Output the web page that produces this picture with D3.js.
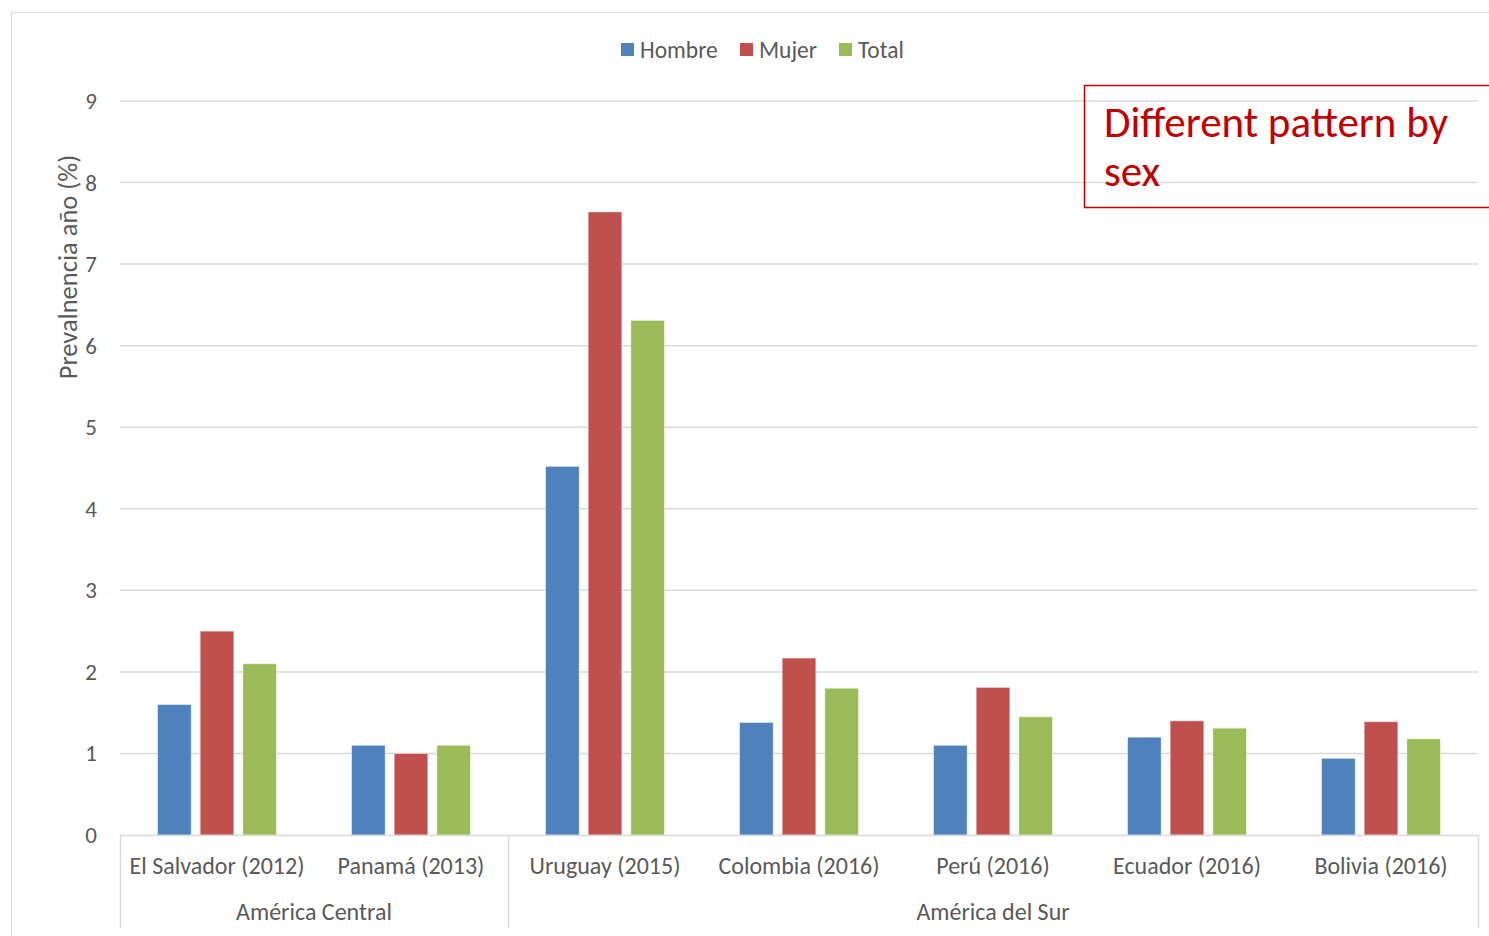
<!DOCTYPE html>
<meta charset="utf-8">
<style>
body { margin: 0; background: #fff; }
svg text { font-family: Carlito, Calibri, Lato, sans-serif; fill: #595959; }
.grid line { stroke: #d9d9d9; stroke-width: 1.5; }
</style>
<body>
<svg width="1489" height="936"></svg>
<script src="https://d3js.org/d3.v7.min.js"></script>
<script>
// data
var countries = ["El Salvador (2012)", "Panamá (2013)", "Uruguay (2015)", "Colombia (2016)", "Perú (2016)", "Ecuador (2016)", "Bolivia (2016)"];
var regions = ["América Central", "América Central", "América del Sur", "América del Sur", "América del Sur", "América del Sur", "América del Sur"];
var seriesNames = ["Hombre", "Mujer", "Total"];
var hombre = [1.6, 1.1, 4.52, 1.38, 1.1, 1.2, 0.94];
var mujer  = [2.5, 1.0, 7.64, 2.17, 1.81, 1.4, 1.39];
var total  = [2.1, 1.1, 6.31, 1.80, 1.45, 1.31, 1.18];
var yTicks = [0, 1, 2, 3, 4, 5, 6, 7, 8, 9];
var colors = ["#4f81bd", "#c0504d", "#9bbb59"];

var svg = d3.select("svg");

// chart frame
svg.append("rect")
    .attr("x", 11.5).attr("y", 12.5)
    .attr("width", 1500).attr("height", 1000)
    .attr("fill", "none").attr("stroke", "#d9d9d9");

var x = d3.scaleBand()
    .domain(countries)
    .range([120, 1478]);

var xs = d3.scaleBand()
    .domain(seriesNames)
    .range([x.bandwidth() / 2 - 59.5, x.bandwidth() / 2 + 59.5])
    .paddingInner(0.21);

var y = d3.scaleLinear()
    .domain([0, 9])
    .range([835, 101]);

// gridlines
svg.append("g")
    .attr("class", "grid")
  .selectAll("line")
  .data(yTicks.slice(1))
  .enter().append("line")
    .attr("x1", 120).attr("x2", 1478)
    .attr("y1", function(d) { return y(d); })
    .attr("y2", function(d) { return y(d); });

// y labels
svg.append("g")
  .selectAll("text")
  .data(yTicks)
  .enter().append("text")
    .attr("x", 97)
    .attr("y", function(d) { return y(d); })
    .attr("dy", "0.35em")
    .attr("text-anchor", "end")
    .attr("font-size", 23)
    .text(function(d) { return d; });

svg.append("text")
    .attr("transform", "translate(77,267) rotate(-90)")
    .attr("text-anchor", "middle")
    .attr("font-size", 26.5)
    .text("Prevalnencia año (%)");

// bars
var series = [hombre, mujer, total];
var groups = svg.append("g").selectAll("g")
  .data(countries)
  .enter().append("g")
    .attr("transform", function(d) { return "translate(" + x(d) + ",0)"; });

groups.selectAll("rect")
  .data(function(d, i) {
    return seriesNames.map(function(s, j) { return {name: s, value: series[j][i], k: j}; });
  })
  .enter().append("rect")
    .attr("x", function(d) { return xs(d.name); })
    .attr("width", xs.bandwidth())
    .attr("y", function(d) { return y(d.value); })
    .attr("height", function(d) { return y(0) - y(d.value); })
    .attr("fill", function(d) { return colors[d.k]; })
    .attr("stroke", "#fff")
    .attr("stroke-opacity", 0.5)
    .attr("stroke-width", 1);

// x axis line
svg.append("line")
    .attr("x1", 120).attr("x2", 1478)
    .attr("y1", 835.5).attr("y2", 835.5)
    .attr("stroke", "#d9d9d9").attr("stroke-width", 1.5);

// category labels
svg.append("g")
  .selectAll("text")
  .data(countries)
  .enter().append("text")
    .attr("x", function(d) { return x(d) + x.bandwidth() / 2; })
    .attr("y", 874)
    .attr("text-anchor", "middle")
    .attr("font-size", 24)
    .text(function(d) { return d; });

// region groups
var regionNames = Array.from(new Set(regions));
var regionSpans = regionNames.map(function(r) {
  var idx = countries.filter(function(c, i) { return regions[i] === r; });
  return {name: r, x0: x(idx[0]), x1: x(idx[idx.length - 1]) + x.bandwidth()};
});

var seps = [120].concat(regionSpans.map(function(d) { return d.x1; }));
svg.append("g")
  .selectAll("line")
  .data(seps)
  .enter().append("line")
    .attr("x1", function(d) { return Math.round(d) + 0.5; })
    .attr("x2", function(d) { return Math.round(d) + 0.5; })
    .attr("y1", 835).attr("y2", 928)
    .attr("stroke", "#d9d9d9").attr("stroke-width", 1.5);

svg.append("g")
  .selectAll("text")
  .data(regionSpans)
  .enter().append("text")
    .attr("x", function(d) { return (d.x0 + d.x1) / 2; })
    .attr("y", 920)
    .attr("text-anchor", "middle")
    .attr("font-size", 24)
    .text(function(d) { return d.name; });

// legend
var legendX = [621, 740, 839];
var legend = svg.append("g").selectAll("g")
  .data(seriesNames)
  .enter().append("g")
    .attr("transform", function(d, i) { return "translate(" + legendX[i] + ",43)"; });
legend.append("rect")
    .attr("width", 13).attr("height", 13)
    .attr("fill", function(d, i) { return colors[i]; });
legend.append("text")
    .attr("x", 19).attr("y", 7)
    .attr("dy", "0.35em")
    .attr("font-size", 23.5)
    .text(function(d) { return d; });

// annotation
svg.append("rect")
    .attr("x", 1084.5).attr("y", 85.5)
    .attr("width", 450).attr("height", 122)
    .attr("fill", "none")
    .attr("stroke", "#c00000").attr("stroke-width", 1.5);
var note = svg.append("text")
    .attr("font-size", 43)
    .style("fill", "#c00000");
note.append("tspan").attr("x", 1104).attr("y", 137).text("Different pattern by");
note.append("tspan").attr("x", 1104).attr("y", 186).text("sex");
</script>
</body>
